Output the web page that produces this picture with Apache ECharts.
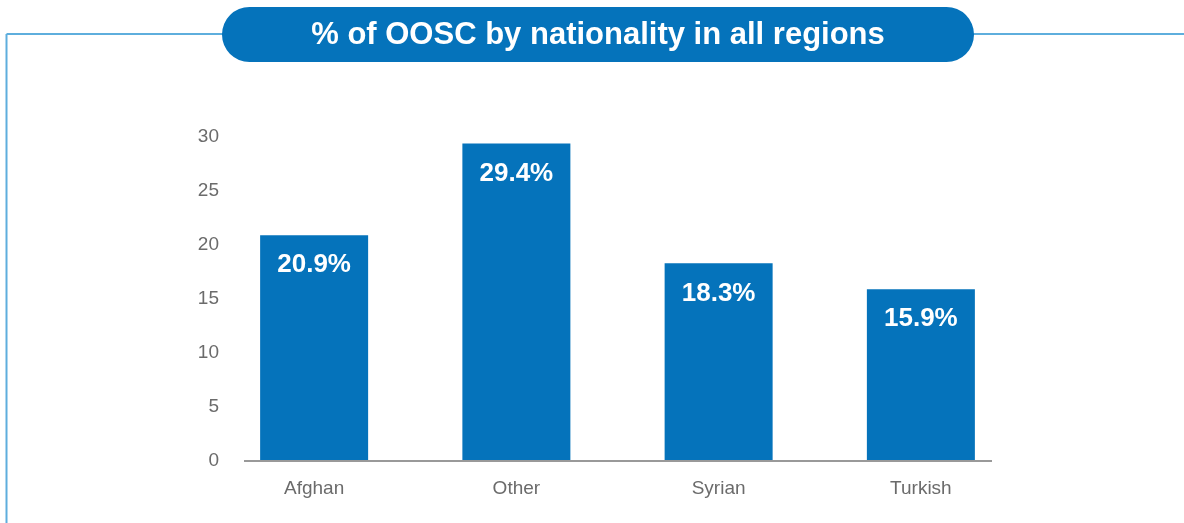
<!DOCTYPE html>
<html>
<head>
<meta charset="utf-8">
<script src="https://cdn.jsdelivr.net/npm/echarts@6/dist/echarts.min.js"></script>
<style>
  html, body { margin: 0; padding: 0; background: #fff; }
  #chart { width: 1184px; height: 523px; }
</style>
</head>
<body>
<div id="chart"></div>
<script>
// Share of out-of-school children by nationality
const titleText = '% of OOSC by nationality in all regions';
const categories = ['Afghan', 'Other', 'Syrian', 'Turkish'];
const shares = [20.9, 29.4, 18.3, 15.9];
const yTicks = [0, 5, 10, 15, 20, 25, 30];

const BLUE = '#0573bb';
const FRAME = '#5eaedd';
const GREY_TEXT = '#6b6b6b';

const chart = echarts.init(document.getElementById('chart'));

chart.setOption({
  animation: false,
  grid: { left: 213, right: 162, top: 137, bottom: 62 },
  xAxis: {
    type: 'category',
    data: categories,
    axisLine: { show: false },
    axisTick: { show: false },
    axisLabel: { color: GREY_TEXT, fontSize: 19, fontFamily: 'Liberation Sans', margin: 18 }
  },
  yAxis: {
    type: 'value',
    min: yTicks[0],
    max: yTicks[yTicks.length - 1],
    interval: 5,
    splitLine: { show: false },
    axisLine: { show: false },
    axisTick: { show: false },
    axisLabel: { color: GREY_TEXT, fontSize: 19, fontFamily: 'Liberation Sans', margin: -6 }
  },
  series: [{
    type: 'bar',
    data: shares,
    barWidth: 108,
    itemStyle: { color: BLUE },
    label: {
      show: true,
      position: 'insideTop',
      distance: 17,
      formatter: p => p.value.toFixed(1) + '%',
      color: '#fff',
      fontSize: 26,
      fontWeight: 'bold',
      fontFamily: 'Liberation Sans'
    },
    z: 2
  }],
  graphic: [
    // outer frame: top rule and left rule
    { type: 'line', shape: { x1: 6.5, y1: 34, x2: 1184, y2: 34 }, style: { stroke: FRAME, lineWidth: 2 }, z: 1 },
    { type: 'line', shape: { x1: 6.5, y1: 34, x2: 6.5, y2: 523 }, style: { stroke: FRAME, lineWidth: 2 }, z: 1 },
    // title pill
    { type: 'rect', shape: { x: 222, y: 7, width: 752, height: 55, r: 27.5 }, style: { fill: BLUE }, z: 5 },
    {
      type: 'text', x: 598, y: 35, z: 6,
      style: {
        text: titleText, fill: '#fff', font: 'bold 31px "Liberation Sans"',
        align: 'center', verticalAlign: 'middle'
      }
    },
    // baseline of the value axis
    { type: 'line', shape: { x1: 244, y1: 461, x2: 992, y2: 461 }, style: { stroke: '#999999', lineWidth: 2 }, z: 10 }
  ]
});
</script>
</body>
</html>
